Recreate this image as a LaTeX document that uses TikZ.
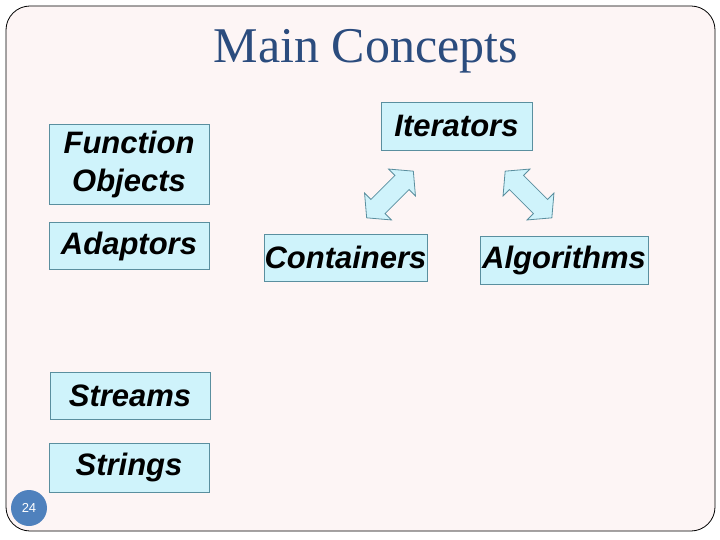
\documentclass[tikz,border=0pt]{standalone}
\usepackage{fontspec}
\setmainfont{Liberation Serif}
\newfontfamily\arialfont{Liberation Sans}
\definecolor{pagebg}{HTML}{FDF5F5}
\definecolor{boxfill}{HTML}{CFF3FB}
\definecolor{boxline}{HTML}{5A8F9F}
\definecolor{titleblue}{HTML}{2B4C7E}
\definecolor{numblue}{HTML}{4F81BD}
\tikzset{
  concept/.style={draw=boxline, fill=boxfill, line width=0.8pt, inner sep=0pt,
    font=\arialfont\bfseries\itshape\fontsize{31}{38}\selectfont, text=black, align=center},
  dblarrow/.style={draw=boxline, fill=boxfill, line width=0.8pt, line join=miter}
}
\newcommand{\dblarrowpath}{(33,0) -- (17,19) -- (17,10) -- (-17,10) -- (-17,19) -- (-33,0) -- (-17,-19) -- (-17,-10) -- (17,-10) -- (17,-19) -- cycle}
\begin{document}
\begin{tikzpicture}[x=1pt,y=-1pt]
\useasboundingbox (0,0) rectangle (720,540);
\fill[white] (0,0) rectangle (720,540);
\draw[fill=pagebg, line width=0.8pt, rounded corners=24pt] (6,6) rectangle (715,531);
\node[font=\fontsize{50}{54}\selectfont, text=titleblue, anchor=base] (title) at (366,63) {Main Concepts};
\node[concept, minimum width=160pt, minimum height=80pt] (fo) at (129,164) {Function\\Objects};
\node[concept, minimum width=160pt, minimum height=47pt] (ad) at (129,246) {Adaptors};
\node[concept, minimum width=151pt, minimum height=48pt] (it) at (456.5,126) {Iterators};
\node[concept, minimum width=163pt, minimum height=47pt] (co) at (345.5,257.5) {Containers};
\node[concept, minimum width=168pt, minimum height=48pt] (al) at (564,260) {Algorithms};
\node[concept, minimum width=160pt, minimum height=47pt] (st) at (130,395.5) {Streams};
\node[concept, minimum width=160pt, minimum height=49pt] (sg) at (129,467.5) {Strings};
\begin{scope}[shift={(390,194.5)}, rotate=45]
  \draw[dblarrow] \dblarrowpath;
\end{scope}
\begin{scope}[shift={(528.5,194.5)}, rotate=-45]
  \draw[dblarrow] \dblarrowpath;
\end{scope}
\node[circle, fill=numblue, minimum size=36pt, inner sep=0pt, text=white,
  font=\arialfont\fontsize{13}{13}\selectfont] (pg) at (29,508) {24};
\end{tikzpicture}
\end{document}
